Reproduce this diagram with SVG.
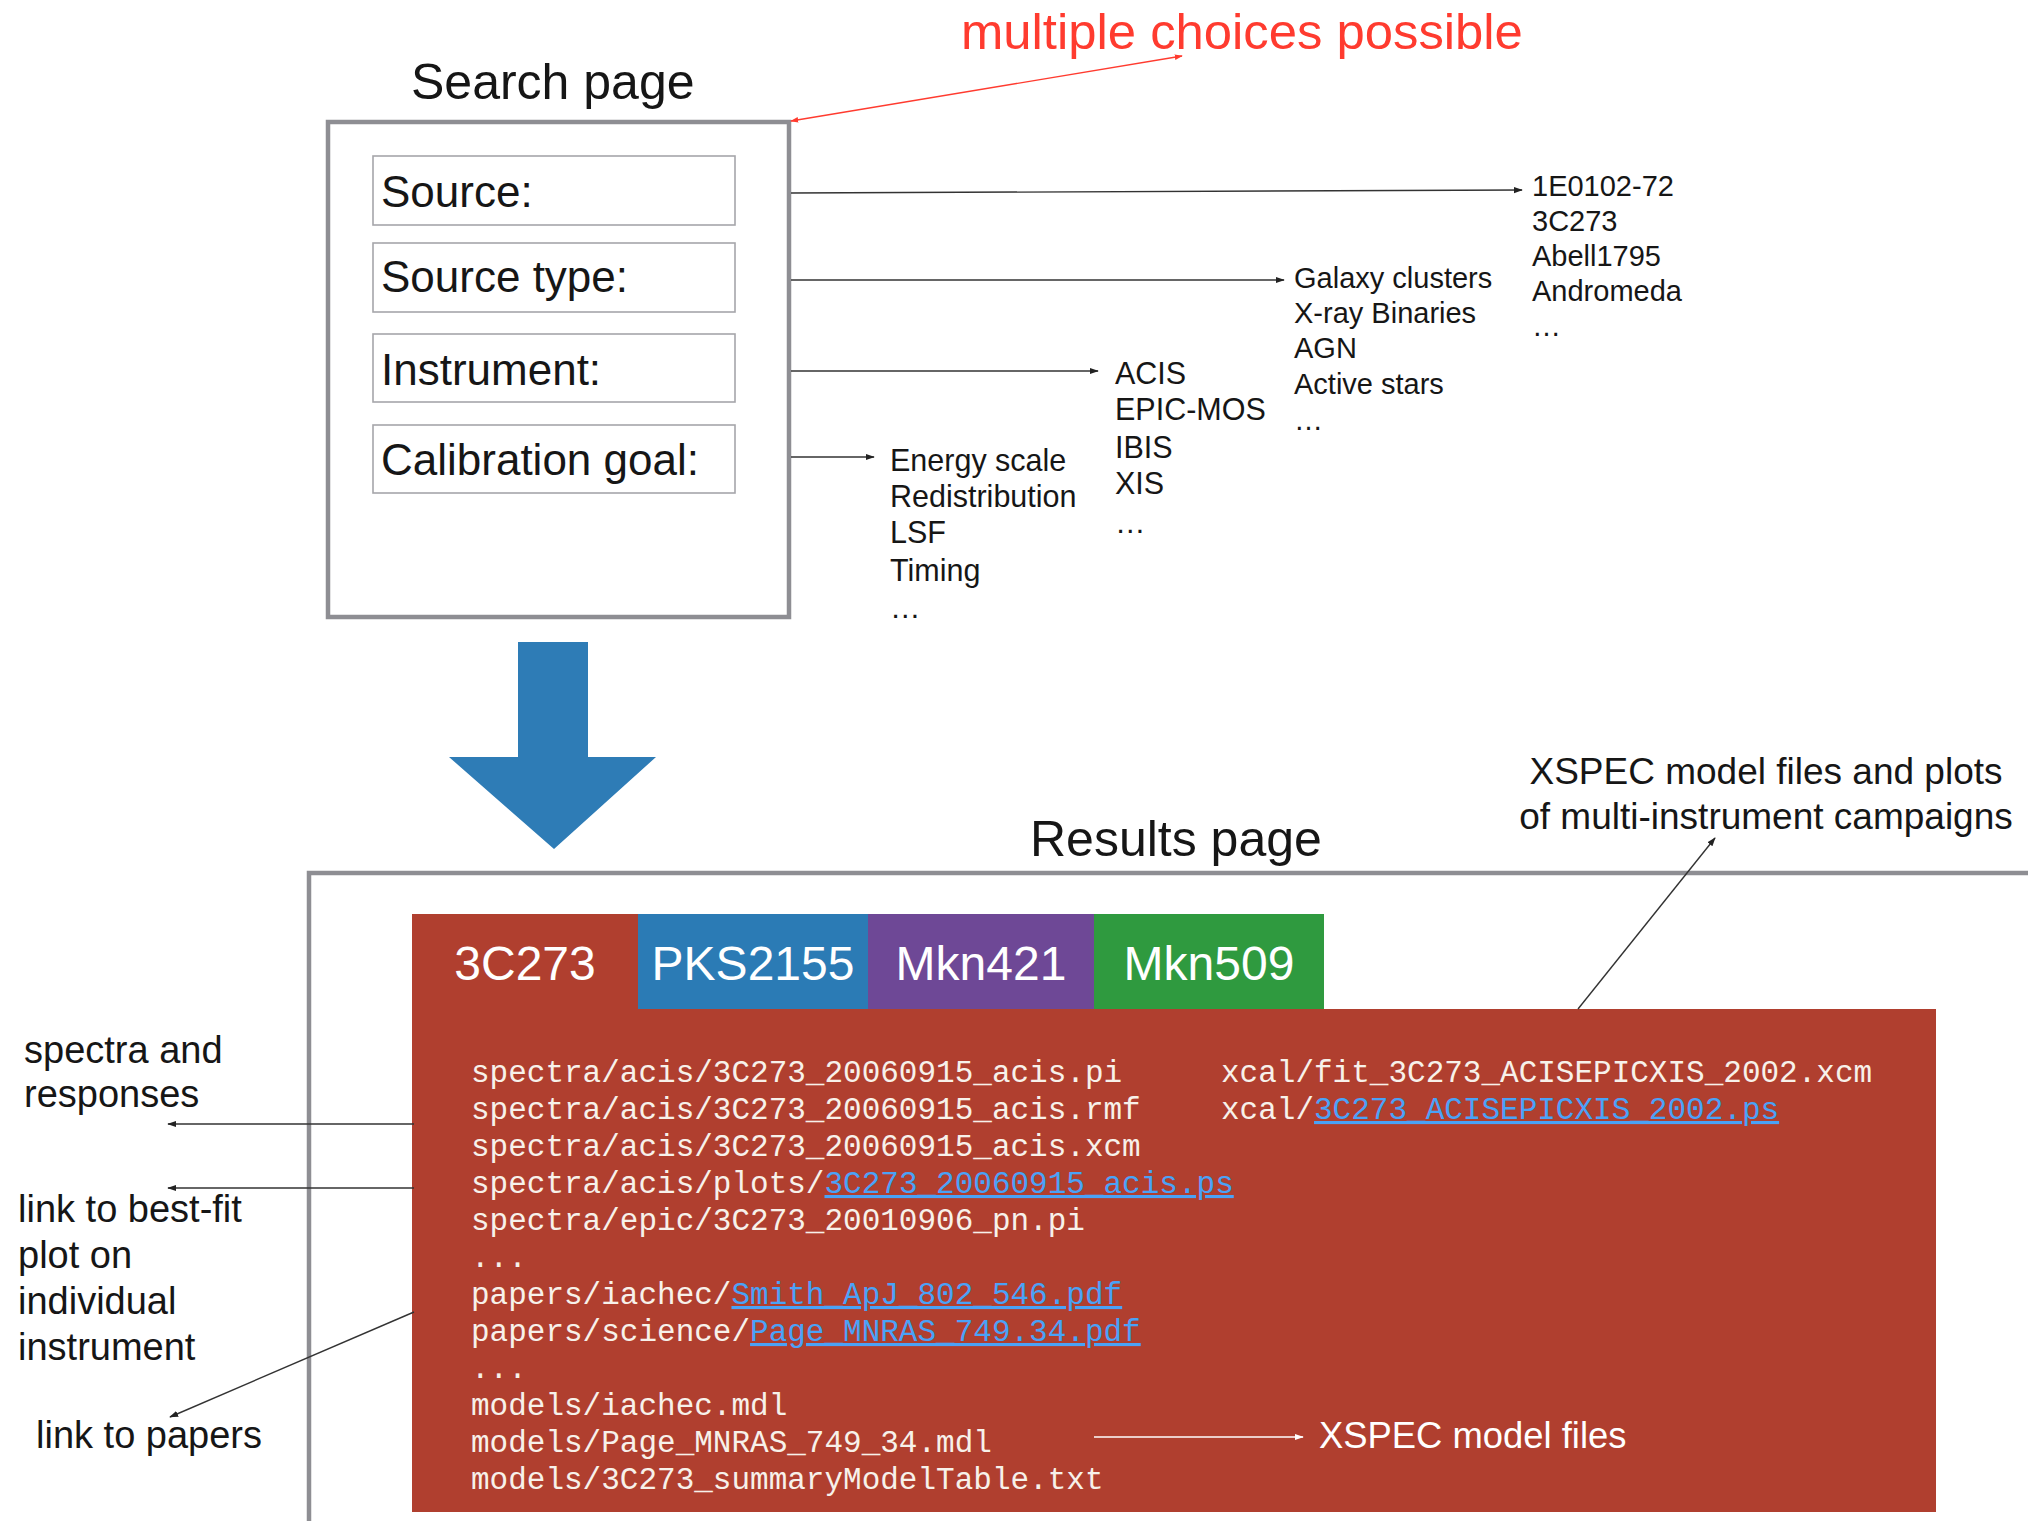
<svg xmlns="http://www.w3.org/2000/svg" width="2028" height="1521" viewBox="0 0 2028 1521">
<style>
.sans{font-family:"Liberation Sans",Arial,Helvetica,sans-serif;fill:#161616}
.title{font-size:50px}
.field{font-size:44px}
.list29{font-size:29px}
.list30{font-size:30.5px}
.note{font-size:37px}
.lnote{font-size:38px}
.tab{font-family:"Liberation Sans",Arial,sans-serif;font-size:48px;fill:#fff;text-anchor:middle}
.mono{font-family:"Liberation Mono","Courier New",monospace;font-size:31px;fill:#f7f1ea}
.link{fill:#4aa2f7;text-decoration:underline}
.conn{stroke:#333;stroke-width:1.4;fill:none}
.fieldbox{fill:#fff;stroke:#a6a6aa;stroke-width:1.6}
.frame{fill:none;stroke:#8e8e93;stroke-width:4.5}
</style>
<defs>
<marker id="ah" viewBox="0 0 10 10" refX="9" refY="5" markerWidth="9" markerHeight="9" markerUnits="userSpaceOnUse" orient="auto"><path d="M0,1.5 L10,5 L0,8.5 z" fill="#222"/></marker>
<marker id="ahw" viewBox="0 0 10 10" refX="9" refY="5" markerWidth="9" markerHeight="9" markerUnits="userSpaceOnUse" orient="auto"><path d="M0,1.5 L10,5 L0,8.5 z" fill="#fff"/></marker>
<marker id="ahr" viewBox="0 0 10 10" refX="9" refY="5" markerWidth="8" markerHeight="8" markerUnits="userSpaceOnUse" orient="auto-start-reverse"><path d="M0,1.5 L10,5 L0,8.5 z" fill="#ff3b2f"/></marker>
</defs>
<rect width="2028" height="1521" fill="#fff"/>

<g id="search-page">
<text class="sans title" x="411" y="99">Search page</text>
<rect class="frame" x="328" y="122" width="461" height="495"/>
</g>
<g id="field-source"><rect class="fieldbox" x="373" y="156" width="362" height="69"/><text class="sans field" x="381" y="207">Source:</text></g>
<g id="field-source-type"><rect class="fieldbox" x="373" y="243" width="362" height="69"/><text class="sans field" x="381" y="292">Source type:</text></g>
<g id="field-instrument"><rect class="fieldbox" x="373" y="334" width="362" height="68"/><text class="sans field" x="381" y="385">Instrument:</text></g>
<g id="field-calibration"><rect class="fieldbox" x="373" y="425" width="362" height="68"/><text class="sans field" x="381" y="475">Calibration goal:</text></g>

<g id="note-multiple"><text class="sans" x="961" y="49" style="font-size:50.8px;fill:#ff3b2f">multiple choices possible</text></g>

<g id="list-sources" class="sans list29">
<text x="1532" y="196">1E0102-72</text>
<text x="1532" y="231">3C273</text>
<text x="1532" y="266">Abell1795</text>
<text x="1532" y="301">Andromeda</text>
<text x="1532" y="336">…</text>
</g>
<g id="list-types" class="sans list29">
<text x="1294" y="288">Galaxy clusters</text>
<text x="1294" y="323">X-ray Binaries</text>
<text x="1294" y="358">AGN</text>
<text x="1294" y="394">Active stars</text>
<text x="1294" y="430">…</text>
</g>
<g id="list-instruments" class="sans list30">
<text x="1115" y="384">ACIS</text>
<text x="1115" y="420">EPIC-MOS</text>
<text x="1115" y="458">IBIS</text>
<text x="1115" y="494">XIS</text>
<text x="1115" y="533">…</text>
</g>
<g id="list-goals" class="sans list30">
<text x="890" y="471">Energy scale</text>
<text x="890" y="507">Redistribution</text>
<text x="890" y="543">LSF</text>
<text x="890" y="581">Timing</text>
<text x="890" y="618">…</text>
</g>

<g id="big-arrow">
<path d="M518,642 L588,642 L588,757 L656,757 L554,849 L449,757 L518,757 Z" fill="#2e7cb6"/>
</g>

<g id="results-page">
<text class="sans title" x="1030" y="856">Results page</text>
<path class="frame" d="M309,1521 L309,873 L2028,873"/>
</g>

<g id="tab-3C273"><rect x="412" y="914" width="226" height="100" fill="#b03f2f"/><text class="tab" x="525" y="980">3C273</text></g>
<g id="tab-PKS2155"><rect x="638" y="914" width="230" height="95" fill="#2b7bb5"/><text class="tab" x="753" y="980">PKS2155</text></g>
<g id="tab-Mkn421"><rect x="868" y="914" width="226" height="95" fill="#6e4896"/><text class="tab" x="981" y="980">Mkn421</text></g>
<g id="tab-Mkn509"><rect x="1094" y="914" width="230" height="95" fill="#2f9a3f"/><text class="tab" x="1209" y="980">Mkn509</text></g>

<g id="results-panel">
<rect x="412" y="1009" width="1524" height="503" fill="#b03f2f"/>
<text class="mono" x="471" y="1082">spectra/acis/3C273_20060915_acis.pi</text>
<text class="mono" x="471" y="1119">spectra/acis/3C273_20060915_acis.rmf</text>
<text class="mono" x="471" y="1156">spectra/acis/3C273_20060915_acis.xcm</text>
<text class="mono" x="471" y="1193">spectra/acis/plots/<tspan class="link">3C273_20060915_acis.ps</tspan></text>
<text class="mono" x="471" y="1230">spectra/epic/3C273_20010906_pn.pi</text>
<text class="mono" x="471" y="1267">...</text>
<text class="mono" x="471" y="1304">papers/iachec/<tspan class="link">Smith_ApJ_802_546.pdf</tspan></text>
<text class="mono" x="471" y="1341">papers/science/<tspan class="link">Page_MNRAS_749.34.pdf</tspan></text>
<text class="mono" x="471" y="1378">...</text>
<text class="mono" x="471" y="1415">models/iachec.mdl</text>
<text class="mono" x="471" y="1452">models/Page_MNRAS_749_34.mdl</text>
<text class="mono" x="471" y="1489">models/3C273_summaryModelTable.txt</text>
<text class="mono" x="1221" y="1082">xcal/fit_3C273_ACISEPICXIS_2002.xcm</text>
<text class="mono" x="1221" y="1119">xcal/<tspan class="link">3C273_ACISEPICXIS_2002.ps</tspan></text>
</g>

<g id="note-xspec-model-files"><text class="sans" x="1319" y="1448" style="font-size:36.4px;fill:#fff">XSPEC model files</text></g>
<g id="note-xspec-campaigns" class="sans note">
<text x="1766" y="784" text-anchor="middle">XSPEC model files and plots</text>
<text x="1766" y="829" text-anchor="middle">of multi-instrument campaigns</text>
</g>
<g id="note-spectra" class="sans lnote">
<text x="24" y="1063">spectra and</text>
<text x="24" y="1107">responses</text>
</g>
<g id="note-bestfit" class="sans lnote">
<text x="18" y="1222">link to best-fit</text>
<text x="18" y="1268">plot on</text>
<text x="18" y="1314">individual</text>
<text x="18" y="1360">instrument</text>
</g>
<g id="note-papers" class="sans lnote"><text x="36" y="1448">link to papers</text></g>

<g id="connectors">
<line x1="791" y1="121" x2="1182" y2="56" stroke="#ff3b2f" stroke-width="1.4" marker-start="url(#ahr)" marker-end="url(#ahr)"/>
<line class="conn" x1="791" y1="193" x2="1522" y2="190" marker-end="url(#ah)"/>
<line class="conn" x1="791" y1="280" x2="1284" y2="280" marker-end="url(#ah)"/>
<line class="conn" x1="791" y1="371" x2="1098" y2="371" marker-end="url(#ah)"/>
<line class="conn" x1="791" y1="457" x2="874" y2="457" marker-end="url(#ah)"/>
<line class="conn" x1="414" y1="1124" x2="168" y2="1124" marker-end="url(#ah)"/>
<line class="conn" x1="414" y1="1188" x2="168" y2="1188" marker-end="url(#ah)"/>
<line class="conn" x1="414" y1="1312" x2="170" y2="1417" marker-end="url(#ah)"/>
<line class="conn" x1="1578" y1="1009" x2="1715" y2="838" marker-end="url(#ah)"/>
<line x1="1094" y1="1437" x2="1303" y2="1437" stroke="#fff" stroke-width="1.4" marker-end="url(#ahw)"/>
</g>
</svg>
